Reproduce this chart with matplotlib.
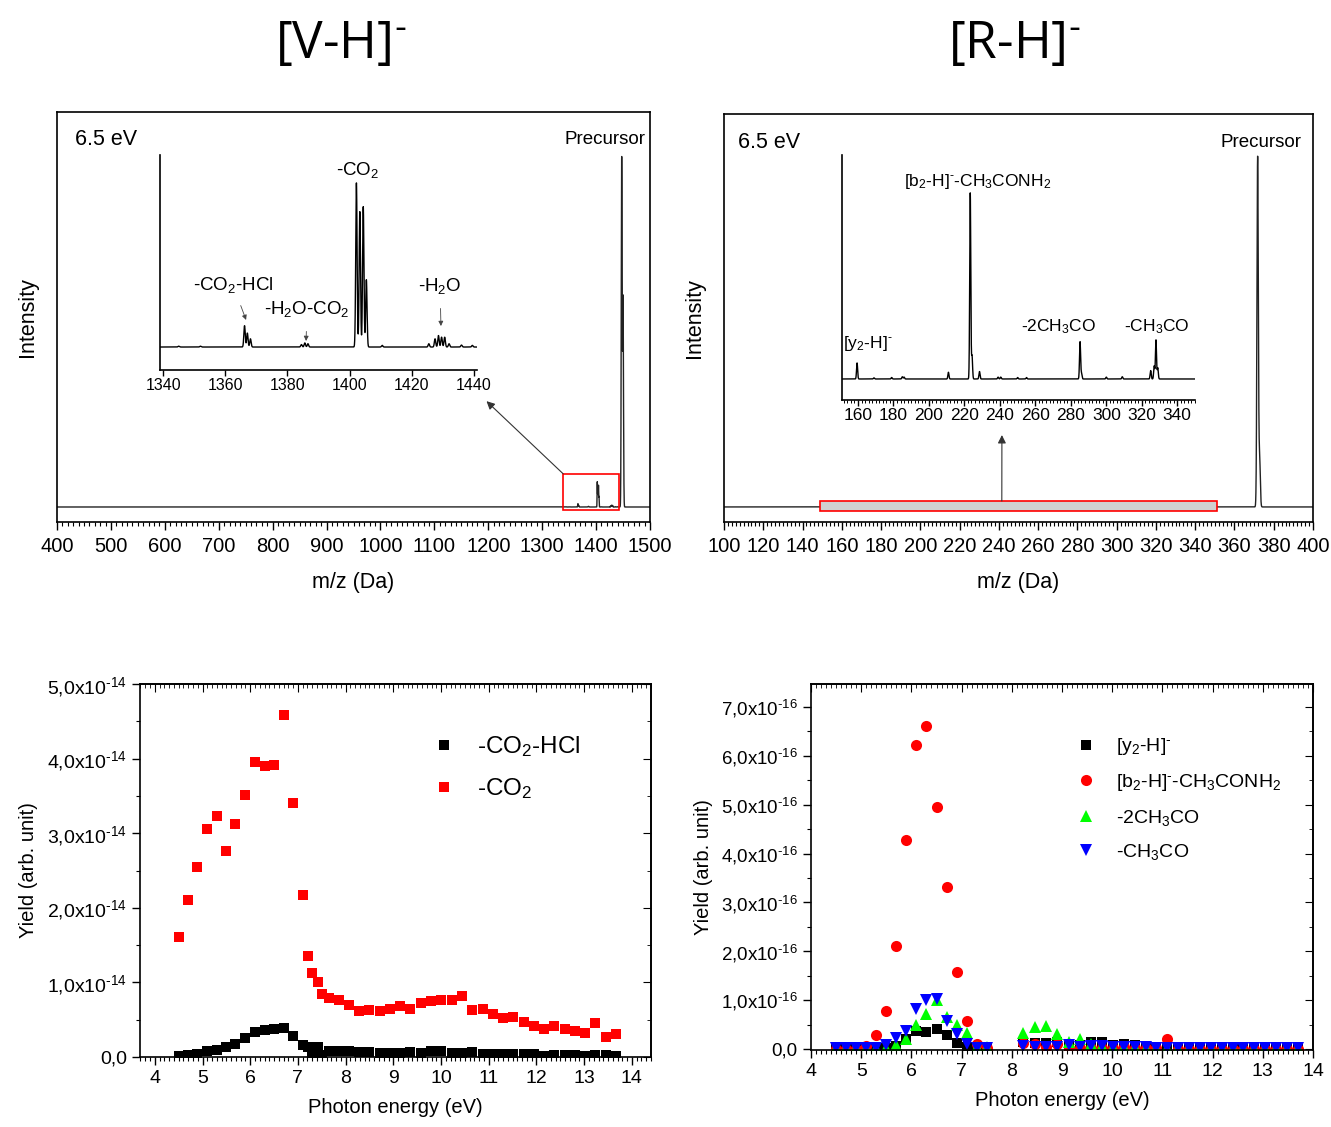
import numpy as np
import matplotlib
matplotlib.use("Agg")
import matplotlib.pyplot as plt
from matplotlib.ticker import MultipleLocator
from matplotlib.patches import Rectangle

plt.rcParams['font.family'] = ['Liberation Sans', 'DejaVu Sans']
plt.rcParams['mathtext.fontset'] = 'custom'
plt.rcParams['mathtext.rm'] = 'Liberation Sans'
plt.rcParams['mathtext.it'] = 'Liberation Sans:italic'
plt.rcParams['mathtext.bf'] = 'Liberation Sans:bold'
plt.rcParams['axes.linewidth'] = 1.2

# ---------------- mass spectra, peak lists (m/z, relative height) ----------------
# [V-H]- precursor
vh_prec_mz = [1447.5, 1450.0]
vh_prec_h = [1.0, 0.6]
# [V-H]- fragments, heights relative to the -CO2 peak
vh_frag_mz = [1345.0, 1352.0, 1366.2, 1367.1, 1368.1, 1384.5, 1385.6, 1386.6,
              1402.2, 1403.3, 1404.4, 1405.4, 1410.5, 1425.5, 1427.5, 1428.6,
              1429.6, 1430.6, 1432.0, 1436.0, 1439.5]
vh_frag_h = [0.005, 0.005, 0.13, 0.085, 0.05, 0.015, 0.025, 0.02,
             1.0, 0.825, 0.855, 0.41, 0.01, 0.02, 0.05, 0.07,
             0.06, 0.06, 0.02, 0.012, 0.01]
vh_frag_scale = 0.072

# [R-H]- precursor
rh_prec_mz = [371.8, 372.8]
rh_prec_h = [1.0, 0.14]
# [R-H]- fragments, heights relative to the [b2-H]- -CH3CONH2 peak
rh_frag_mz = [159.5, 169.0, 179.0, 185.0, 186.0, 211.0, 223.3, 224.3, 228.5,
              239.0, 240.5, 250.0, 255.0, 285.2, 286.0, 300.0, 309.0,
              325.0, 327.0, 328.0, 329.0]
rh_frag_h = [0.086, 0.006, 0.008, 0.012, 0.01, 0.036, 1.0, 0.125, 0.04,
             0.01, 0.01, 0.008, 0.008, 0.2, 0.03, 0.01, 0.012,
             0.045, 0.07, 0.21, 0.06]
rh_frag_scale = 0.01

# ---------------- photon-energy yields ----------------
energy_v = [4.50, 4.69, 4.89, 5.09, 5.30, 5.50, 5.69, 5.90, 6.10, 6.30, 6.49, 6.70,
            6.89, 7.10, 7.21, 7.30, 7.43, 7.50, 7.65, 7.86, 8.07, 8.29, 8.50, 8.71,
            8.93, 9.14, 9.35, 9.57, 9.79, 10.00, 10.22, 10.43, 10.65, 10.87, 11.08,
            11.29, 11.51, 11.73, 11.94, 12.15, 12.37, 12.59, 12.81, 13.02, 13.23,
            13.45, 13.67]
co2_hcl = [0.01, 0.03, 0.04, 0.08, 0.10, 0.13, 0.17, 0.26, 0.33, 0.36, 0.37, 0.39,
           0.28, 0.16, 0.13, 0.06, 0.13, 0.03, 0.08, 0.08, 0.08, 0.07, 0.07, 0.05,
           0.06, 0.06, 0.07, 0.06, 0.08, 0.08, 0.05, 0.05, 0.07, 0.04, 0.04,
           0.04, 0.04, 0.04, 0.04, 0.02, 0.03, 0.03, 0.03, 0.02, 0.03,
           0.03, 0.02]
co2 = [1.61, 2.11, 2.55, 3.05, 3.23, 2.76, 3.13, 3.51, 3.96, 3.90, 3.91, 4.58,
       3.40, 2.17, 1.35, 1.13, 1.01, 0.84, 0.79, 0.77, 0.70, 0.61, 0.63, 0.61,
       0.64, 0.69, 0.65, 0.73, 0.75, 0.76, 0.77, 0.82, 0.63, 0.64, 0.57,
       0.52, 0.54, 0.47, 0.41, 0.37, 0.41, 0.38, 0.35, 0.32, 0.46,
       0.27, 0.31]

energy_r = [4.5, 4.7, 4.9, 5.1, 5.3, 5.5, 5.7, 5.9, 6.1, 6.3, 6.5, 6.7, 6.9, 7.1, 7.3, 7.5,
            8.23, 8.46, 8.69, 8.91, 9.13, 9.36, 9.57, 9.79, 10.02, 10.23, 10.46, 10.68,
            10.88, 11.10, 11.31, 11.52, 11.74, 11.96, 12.18, 12.40, 12.61, 12.83, 13.05,
            13.27, 13.48, 13.70]
y2 = [0.02, 0.02, 0.02, 0.02, 0.02, 0.02, 0.06, 0.20, 0.36, 0.34, 0.41, 0.29, 0.13, 0.05, 0.02, 0.01,
      0.15, 0.12, 0.13, 0.14, 0.06, 0.08, 0.15, 0.15, 0.08, 0.10, 0.08, 0.04,
      0.03, 0.02, 0.02, 0.01, 0.01, 0.01, 0.01, 0.01, 0.01, 0.01, 0.01,
      0.01, 0.01, 0.01]
b2 = [0.01, 0.01, 0.01, 0.06, 0.28, 0.77, 2.10, 4.28, 6.23, 6.61, 4.95, 3.32, 1.57, 0.57, 0.10, 0.03,
      0.13, 0.10, 0.05, 0.10, 0.03, 0.02, 0.02, 0.02, 0.03, 0.05, 0.03, 0.02,
      0.02, 0.20, 0.01, 0.01, 0.01, 0.01, 0.01, 0.01, 0.01, 0.01, 0.01,
      0.01, 0.01, 0.01]
ch3co2 = [0.02, 0.02, 0.02, 0.02, 0.02, 0.02, 0.08, 0.20, 0.49, 0.71, 1.01, 0.65, 0.49, 0.33, 0.05, 0.04,
          0.33, 0.45, 0.47, 0.31, 0.15, 0.20, 0.10, 0.07, 0.05, 0.05, 0.04, 0.03,
          0.03, 0.02, 0.02, 0.02, 0.02, 0.02, 0.02, 0.02, 0.02, 0.02, 0.02,
          0.02, 0.02, 0.02]
ch3co = [0.02, 0.02, 0.02, 0.02, 0.02, 0.08, 0.22, 0.37, 0.81, 1.00, 1.02, 0.57, 0.30, 0.10, 0.03, 0.02,
         0.06, 0.04, 0.04, 0.04, 0.08, 0.05, 0.06, 0.06, 0.05, 0.05, 0.04, 0.04,
         0.03, 0.02, 0.02, 0.02, 0.02, 0.02, 0.02, 0.02, 0.02, 0.02, 0.02,
         0.02, 0.02, 0.02]

yt_v = [0, 1e-14, 2e-14, 3e-14, 4e-14, 5e-14]
yt_v_lab = ['0,0'] + ['%d,0x10$^{\\text{-}14}$' % k for k in range(1, 6)]
yt_r = [0, 1e-16, 2e-16, 3e-16, 4e-16, 5e-16, 6e-16, 7e-16]
yt_r_lab = ['0,0'] + ['%d,0x10$^{\\text{-}16}$' % k for k in range(1, 8)]

NEG = '$^{\\text{-}}$'   # small superscript hyphen, as in the original labels


def spectrum(x, centers, heights, width):
    y = np.zeros_like(x)
    for c, h in zip(centers, heights):
        y += h * np.exp(-0.5 * ((x - c) / width) ** 2)
    return y


def spec_axes(ax, major, minor):
    ax.set_yticks([])
    ax.xaxis.set_major_locator(MultipleLocator(major))
    ax.xaxis.set_minor_locator(MultipleLocator(minor))
    ax.tick_params(axis='x', which='major', direction='out', length=6, width=1, labelsize=14.5, pad=5)
    ax.tick_params(axis='x', which='minor', direction='out', length=3, width=0.8)


def inset_axes_style(ax, major, minor):
    for s in ['top', 'right']:
        ax.spines[s].set_visible(False)
    ax.set_yticks([])
    ax.xaxis.set_major_locator(MultipleLocator(major))
    if minor:
        ax.xaxis.set_minor_locator(MultipleLocator(minor))
    ax.tick_params(axis='x', which='major', direction='out', length=4, width=1, pad=2)
    ax.tick_params(axis='x', which='minor', direction='out', length=2.5, width=0.7)


def yield_axes(ax, xminor, yminor):
    ax.xaxis.set_major_locator(MultipleLocator(1))
    ax.xaxis.set_minor_locator(MultipleLocator(xminor))
    ax.yaxis.set_minor_locator(MultipleLocator(yminor))
    ax.tick_params(which='major', direction='out', length=6, width=1, labelsize=14)
    ax.tick_params(which='minor', direction='out', length=3, width=0.8)
    top = ax.secondary_xaxis('top')
    top.xaxis.set_major_locator(MultipleLocator(1))
    top.xaxis.set_minor_locator(MultipleLocator(xminor))
    top.tick_params(which='major', direction='in', length=6, labeltop=False)
    top.tick_params(which='minor', direction='in', length=3)
    right = ax.secondary_yaxis('right')
    right.yaxis.set_major_locator(MultipleLocator(yminor * 2))
    right.yaxis.set_minor_locator(MultipleLocator(yminor))
    right.tick_params(which='major', direction='in', length=6, labelright=False)
    right.tick_params(which='minor', direction='in', length=3)


fig = plt.figure(figsize=(13.31, 11.27), dpi=100)

fig.text(341 / 1331, 1 - 45 / 1127, '[V-H]' + NEG, fontsize=37, ha='center', va='center',
         family=['Open Sans', 'DejaVu Sans'])
fig.text(1014 / 1331, 1 - 45 / 1127, '[R-H]' + NEG, fontsize=37, ha='center', va='center',
         family=['Open Sans', 'DejaVu Sans'])

# ---------------- top left: [V-H]- spectrum ----------------
ax1 = fig.add_axes([57 / 1331, 1 - 522 / 1127, 593 / 1331, 410 / 1127])
mz = np.linspace(400, 1500, 30000)
ax1.plot(mz, spectrum(mz, vh_prec_mz, vh_prec_h, 0.8)
         + vh_frag_scale * spectrum(mz, vh_frag_mz, vh_frag_h, 0.35), color='#222222', lw=1.0)
ax1.set_xlim(400, 1500)
ax1.set_ylim(-0.043, 1.132)
spec_axes(ax1, 100, 10)
ax1.set_xlabel('m/z (Da)', fontsize=15.5, labelpad=11)
ax1.set_ylabel('Intensity', fontsize=15.5, labelpad=14)
ax1.text(0.030, 0.932, '6.5 eV', transform=ax1.transAxes, fontsize=15.5, va='center')
ax1.text(0.992, 0.934, 'Precursor', transform=ax1.transAxes, fontsize=13.5, va='center', ha='right')
rect1 = Rectangle((1339, -0.009), 103, 0.104, fill=False, edgecolor='red', lw=1.2, zorder=3)
ax1.add_patch(rect1)

in1 = fig.add_axes([160 / 1331, 1 - 370 / 1127, 317 / 1331, 215 / 1127])
mz_in = np.linspace(1339, 1441, 8000)
in1.plot(mz_in, spectrum(mz_in, vh_frag_mz, vh_frag_h, 0.22), color='black', lw=1.0)
in1.set_xlim(1339, 1441)
in1.set_ylim(-0.14, 1.17)
inset_axes_style(in1, 20, None)
in1.tick_params(axis='x', labelsize=11.5)
in1.text(1402.6, 1.08, '-CO$_2$', fontsize=13.5, ha='center', va='center')
in1.annotate('-CO$_2$-HCl', xy=(1366.7, 0.165), xytext=(1362.5, 0.378), fontsize=13.5,
             ha='center', va='center',
             arrowprops=dict(arrowstyle='-|>', color='#444444', lw=0.6, mutation_scale=7,
                             shrinkA=6, shrinkB=0))
in1.annotate('-H$_2$O-CO$_2$', xy=(1386.0, 0.037), xytext=(1386.3, 0.232), fontsize=13.5,
             ha='center', va='center',
             arrowprops=dict(arrowstyle='-|>', color='#444444', lw=0.6, mutation_scale=7,
                             shrinkA=7, shrinkB=0))
in1.annotate('-H$_2$O', xy=(1429.4, 0.128), xytext=(1429.1, 0.372), fontsize=13.5,
             ha='center', va='center',
             arrowprops=dict(arrowstyle='-|>', color='#444444', lw=0.6, mutation_scale=7,
                             shrinkA=7, shrinkB=0))
# arrow from the red box to the inset
ax1.annotate('', xy=(1.03, -0.145), xycoords=in1.transAxes, xytext=(1339, 0.095),
             textcoords='data',
             arrowprops=dict(arrowstyle='-|>', color='#333333', lw=0.8, mutation_scale=12,
                             shrinkA=0, shrinkB=0))

# ---------------- top right: [R-H]- spectrum ----------------
ax2 = fig.add_axes([724 / 1331, 1 - 522 / 1127, 589 / 1331, 408 / 1127])
mz2 = np.linspace(100, 400, 30000)
ax2.plot(mz2, spectrum(mz2, rh_prec_mz, rh_prec_h, 0.35)
         + rh_frag_scale * spectrum(mz2, rh_frag_mz, rh_frag_h, 0.3), color='#222222', lw=1.0)
ax2.set_xlim(100, 400)
ax2.set_ylim(-0.043, 1.123)
spec_axes(ax2, 20, 2)
ax2.set_xlabel('m/z (Da)', fontsize=15.5, labelpad=11)
ax2.set_ylabel('Intensity', fontsize=15.5, labelpad=14)
ax2.text(0.024, 0.929, '6.5 eV', transform=ax2.transAxes, fontsize=15.5, va='center')
ax2.text(0.981, 0.931, 'Precursor', transform=ax2.transAxes, fontsize=13.5, va='center', ha='right')
rect2 = Rectangle((149, -0.011), 202, 0.028, facecolor='#d0d0d0', edgecolor='red', lw=1.2,
                  alpha=1.0, zorder=3)
ax2.add_patch(rect2)

in2 = fig.add_axes([842 / 1331, 1 - 400 / 1127, 353 / 1331, 245 / 1127])
mz2_in = np.linspace(151, 350, 10000)
in2.plot(mz2_in, spectrum(mz2_in, rh_frag_mz, rh_frag_h, 0.3), color='black', lw=1.0)
in2.set_xlim(151, 350)
in2.set_ylim(-0.113, 1.204)
inset_axes_style(in2, 20, 2)
in2.tick_params(axis='x', labelsize=12.5)
in2.text(227.7, 1.064, '[b$_2$-H]' + NEG + '-CH$_3$CONH$_2$', fontsize=12.5, ha='center', va='center')
in2.text(165.7, 0.193, '[y$_2$-H]' + NEG, fontsize=12.5, ha='center', va='center')
in2.text(273.3, 0.279, '-2CH$_3$CO', fontsize=12.5, ha='center', va='center')
in2.text(328.6, 0.279, '-CH$_3$CO', fontsize=12.5, ha='center', va='center')
ax2.annotate('', xy=(0.453, -0.143), xycoords=in2.transAxes, xytext=(241.5, 0.017),
             textcoords='data',
             arrowprops=dict(arrowstyle='-|>', color='#333333', lw=0.8, mutation_scale=12,
                             shrinkA=0, shrinkB=0))

# ---------------- bottom left: [V-H]- yields ----------------
ax3 = fig.add_axes([140 / 1331, 1 - 1057 / 1127, 511 / 1331, 373 / 1127])
ax3.plot(energy_v, np.array(co2_hcl) * 1e-14, 's', color='black', ms=7, mew=0, label='-CO$_2$-HCl')
ax3.plot(energy_v, np.array(co2) * 1e-14, 's', color='red', ms=7, mew=0, label='-CO$_2$')
ax3.set_xlim(3.69, 14.4)
ax3.set_ylim(0, 5e-14)
ax3.set_yticks(yt_v, yt_v_lab)
yield_axes(ax3, 0.1, 0.5e-14)
ax3.set_xlabel('Photon energy (eV)', fontsize=14.5, labelpad=8)
ax3.set_ylabel('Yield (arb. unit)', fontsize=14.5, labelpad=6)
ax3.legend(loc='upper left', bbox_to_anchor=(0.567, 0.865), frameon=False, fontsize=17.5,
           handlelength=1.2, handletextpad=0.75, labelspacing=0.7, borderpad=0, borderaxespad=0)

# ---------------- bottom right: [R-H]- yields ----------------
ax4 = fig.add_axes([811 / 1331, 1 - 1050 / 1127, 502 / 1331, 366 / 1127])
ax4.plot(energy_r, np.array(y2) * 1e-16, 's', color='black', ms=7, mew=0, label='[y$_2$-H]' + NEG)
ax4.plot(energy_r, np.array(b2) * 1e-16, 'o', color='red', ms=8, mew=0,
         label='[b$_2$-H]' + NEG + '-CH$_3$CONH$_2$')
ax4.plot(energy_r, np.array(ch3co2) * 1e-16, '^', color='#00ff00', ms=8, mew=0, label='-2CH$_3$CO')
ax4.plot(energy_r, np.array(ch3co) * 1e-16, 'v', color='blue', ms=8, mew=0, label='-CH$_3$CO')
ax4.set_xlim(4, 14)
ax4.set_ylim(-0.02e-16, 7.47e-16)
ax4.set_yticks(yt_r, yt_r_lab)
yield_axes(ax4, 0.1, 0.5e-16)
ax4.tick_params(axis='y', labelsize=13.5)
ax4.set_xlabel('Photon energy (eV)', fontsize=14.5, labelpad=8)
ax4.set_ylabel('Yield (arb. unit)', fontsize=14.5, labelpad=6)
ax4.legend(loc='upper left', bbox_to_anchor=(0.525, 0.857), frameon=False, fontsize=14,
           handlelength=1.2, handletextpad=0.95, labelspacing=0.75, borderpad=0, borderaxespad=0)

fig.savefig('out.png', dpi=100)
